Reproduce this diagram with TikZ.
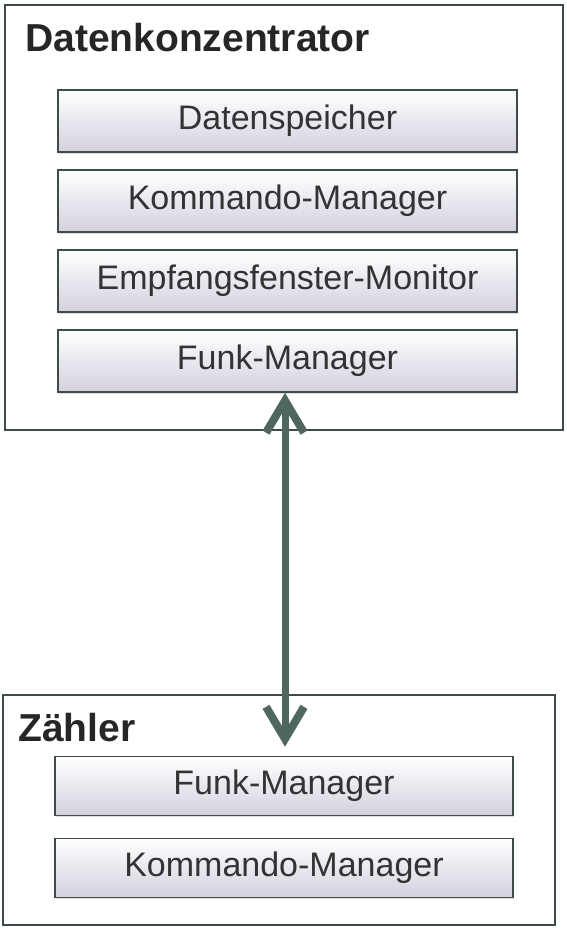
\documentclass[tikz,border=0pt]{standalone}
\usepackage{fontspec}
\setmainfont{Liberation Sans}
\usetikzlibrary{positioning,arrows.meta,shadows}

\definecolor{rahmen}{HTML}{3E4B47}
\definecolor{pfeilgruen}{HTML}{506660}
\definecolor{lavendel}{HTML}{D4D0DE}

\tikzset{
  container/.style={rectangle, draw=rahmen, line width=2pt, fill=white, inner sep=0pt},
  modul/.style={rectangle, draw=rahmen, line width=1.6pt, top color=white, bottom color=lavendel,
                minimum width=459pt, minimum height=62pt, text centered, text=black!80,
                font=\fontsize{34}{40}\selectfont,
                drop shadow={shadow xshift=1pt, shadow yshift=-2pt, opacity=0.25}},
  titel/.style={anchor=base west, inner sep=0pt, text=black!85, font=\fontsize{39}{46}\selectfont\bfseries},
  arrow/.style={{Straight Barb[length=32pt,width=38pt,line width=8pt]}-{Straight Barb[length=32pt,width=38pt,line width=8pt]},
                line width=7pt, draw=pfeilgruen},
}

\begin{document}
\begin{tikzpicture}[x=1pt, y=1pt, node distance=80pt]
  \useasboundingbox[fill=white] (0,0) rectangle (566,929);

  % Datenkonzentrator (top)
  \node[container, minimum width=558pt, minimum height=425pt] (konz) at (284,711.5) {};
  \node[titel] (konztitel) at (25,877) {Datenkonzentrator};
  \node[modul] (speicher)  at (287.5,808) {Datenspeicher};
  \node[modul, below of=speicher] (kommandoK) {Kommando-Manager};
  \node[modul, below of=kommandoK] (monitor) {Empfangsfenster-Monitor};
  \node[modul, below of=monitor] (funkK) {Funk-Manager};

  % Zaehler (bottom)
  \node[container, minimum width=552pt, minimum height=230pt] (zaehler) at (279,119) {};
  \node[titel] (zaehlertitel) at (18,187) {Zähler};
  \node[modul, minimum width=458pt, minimum height=59pt] (funkZ) at (284,143) {Funk-Manager};
  \node[modul, minimum width=458pt, minimum height=59pt, below of=funkZ, node distance=82pt] (kommandoZ) {Kommando-Manager};

  % Funkverbindung
  \coordinate (oben)  at ([xshift=-2.5pt]funkK.south);
  \coordinate (unten) at ([yshift=9pt]oben |- funkZ.north);
  \draw[arrow] (oben) -- (unten);
\end{tikzpicture}
\end{document}
